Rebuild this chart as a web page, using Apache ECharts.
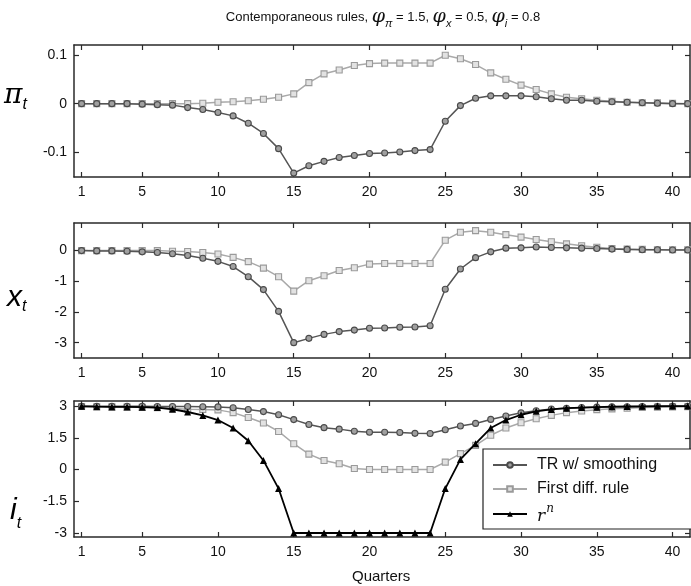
<!DOCTYPE html>
<html>
<head>
<meta charset="utf-8">
<script src="https://cdn.jsdelivr.net/npm/echarts@6/dist/echarts.min.js"></script>
<style>
  html, body { margin: 0; padding: 0; background: #fff; }
  #chart { width: 691px; height: 586px; }
</style>
</head>
<body>
<div id="chart"></div>
<script>
// Quarters after the shock
const quarters = [1, 2, 3, 4, 5, 6, 7, 8, 9, 10, 11, 12, 13, 14, 15, 16, 17, 18, 19, 20,
  21, 22, 23, 24, 25, 26, 27, 28, 29, 30, 31, 32, 33, 34, 35, 36, 37, 38, 39, 40, 41];
const quarterTicks = [1, 5, 10, 15, 20, 25, 30, 35, 40];

// Inflation
const piTR = [0, 0, 0, 0, -0.001, -0.002, -0.003, -0.008, -0.012, -0.018, -0.025, -0.04, -0.061, -0.092,
  -0.142, -0.127, -0.118, -0.11, -0.106, -0.102, -0.101, -0.099, -0.096, -0.094, -0.036, -0.004,
  0.011, 0.016, 0.016, 0.016, 0.014, 0.01, 0.007, 0.007, 0.005, 0.004, 0.003, 0.002, 0.001, 0, 0];
const piFD = [0, 0, 0, 0, 0, 0, 0, 0, 0.001, 0.003, 0.004, 0.006, 0.009, 0.013, 0.02, 0.043, 0.061,
  0.069, 0.078, 0.082, 0.083, 0.083, 0.083, 0.083, 0.099, 0.092, 0.08, 0.063, 0.05, 0.038, 0.029,
  0.02, 0.013, 0.01, 0.007, 0.005, 0.003, 0.002, 0.002, 0.001, 0];
const piTicks = [-0.1, 0, 0.1];

// Output gap
const xTR = [0, -0.01, -0.01, -0.02, -0.04, -0.06, -0.1, -0.16, -0.25, -0.35, -0.52, -0.85, -1.27,
  -1.98, -3.0, -2.86, -2.73, -2.64, -2.59, -2.53, -2.52, -2.5, -2.49, -2.45, -1.26, -0.6, -0.23,
  -0.04, 0.08, 0.09, 0.12, 0.1, 0.09, 0.08, 0.07, 0.05, 0.04, 0.03, 0.03, 0.02, 0.02];
const xFD = [0, 0, 0, 0, 0, 0, -0.02, -0.03, -0.06, -0.11, -0.22, -0.36, -0.57, -0.85, -1.32, -0.98,
  -0.82, -0.65, -0.56, -0.44, -0.42, -0.42, -0.42, -0.42, 0.34, 0.6, 0.65, 0.6, 0.52, 0.44, 0.36,
  0.29, 0.22, 0.16, 0.11, 0.07, 0.05, 0.04, 0.03, 0.03, 0.03];
const xTicks = [-3, -2, -1, 0];

// Nominal interest rate and natural rate
const iTR = [2.99, 2.99, 2.99, 2.99, 2.99, 2.98, 2.98, 2.98, 2.97, 2.96, 2.92, 2.84, 2.74, 2.59, 2.36,
  2.13, 1.98, 1.91, 1.81, 1.76, 1.76, 1.75, 1.71, 1.7, 1.88, 2.06, 2.18, 2.37, 2.53, 2.68, 2.78,
  2.86, 2.9, 2.93, 2.95, 2.96, 2.97, 2.98, 2.98, 2.99, 2.99];
const iFD = [2.98, 2.97, 2.96, 2.95, 2.94, 2.92, 2.89, 2.85, 2.84, 2.82, 2.69, 2.46, 2.2, 1.8, 1.22,
  0.73, 0.43, 0.27, 0.05, 0, 0, 0, 0, 0, 0.35, 0.75, 1.14, 1.62, 1.96, 2.21, 2.4, 2.56, 2.69, 2.77,
  2.83, 2.87, 2.9, 2.93, 2.95, 2.96, 2.97];
const rn = [2.99, 2.97, 2.96, 2.96, 2.95, 2.93, 2.85, 2.72, 2.56, 2.34, 1.96, 1.36, 0.43, -0.9, -3,
  -3, -3, -3, -3, -3, -3, -3, -3, -3, -0.9, 0.48, 1.22, 1.96, 2.34, 2.59, 2.75, 2.84, 2.9, 2.93,
  2.95, 2.97, 2.98, 2.99, 3.0, 3.0, 3.0];
const iTicks = [-3, -1.5, 0, 1.5, 3];

const seriesNames = ['TR w/ smoothing', 'First diff. rule', 'rn'];

const panels = [
  { top: 45, height: 132, min: -0.15, max: 0.12, ticks: piTicks, tr: piTR, fd: piFD },
  { top: 223, height: 135, min: -3.5, max: 0.9, ticks: xTicks, tr: xTR, fd: xFD },
  { top: 401, height: 136, min: -3.19, max: 3.24, ticks: iTicks, tr: iTR, fd: iFD, rn: rn }
];

const axisLine = { show: true, onZero: false, lineStyle: { color: '#2a2a2a', width: 1.5 } };
const font = 'Liberation Sans, Arial, Helvetica, sans-serif';

const grid = [], xAxis = [], yAxis = [], series = [];
panels.forEach((p, i) => {
  grid.push({ left: 74, width: 616, top: p.top, height: p.height });
  ['bottom', 'top'].forEach(pos => {
    xAxis.push({
      gridIndex: i, type: 'value', position: pos, min: 0.5, max: 41.15,
      axisLine: axisLine,
      axisTick: { show: true, inside: true, length: 5, customValues: quarterTicks,
        lineStyle: { color: '#2a2a2a', width: 1.2 } },
      axisLabel: { show: pos === 'bottom', customValues: quarterTicks, color: '#111',
        fontSize: 14, margin: 8, fontFamily: font },
      splitLine: { show: false }
    });
  });
  ['left', 'right'].forEach(pos => {
    yAxis.push({
      gridIndex: i, type: 'value', position: pos, min: p.min, max: p.max,
      axisLine: axisLine,
      axisTick: { show: true, inside: true, length: 5, customValues: p.ticks,
        lineStyle: { color: '#2a2a2a', width: 1.2 } },
      axisLabel: { show: pos === 'left', customValues: p.ticks, color: '#111',
        fontSize: 14, margin: 7, fontFamily: font },
      splitLine: { show: false }
    });
  });
  const pair = (vals) => quarters.map((q, k) => [q, vals[k]]);
  series.push({
    name: seriesNames[1], type: 'line', xAxisIndex: 2 * i, yAxisIndex: 2 * i,
    data: pair(p.fd), symbol: 'rect', symbolSize: 6, showAllSymbol: true,
    lineStyle: { color: '#a9a9a9', width: 1.5 },
    itemStyle: { color: '#e2e2e2', borderColor: '#9a9a9a', borderWidth: 1.1 },
    z: 2, animation: false
  });
  series.push({
    name: seriesNames[0], type: 'line', xAxisIndex: 2 * i, yAxisIndex: 2 * i,
    data: pair(p.tr), symbol: 'circle', symbolSize: 6, showAllSymbol: true,
    lineStyle: { color: '#555', width: 1.5 },
    itemStyle: { color: '#a0a0a0', borderColor: '#4a4a4a', borderWidth: 1.1 },
    z: 3, animation: false
  });
  if (p.rn) {
    series.push({
      name: seriesNames[2], type: 'line', xAxisIndex: 2 * i, yAxisIndex: 2 * i,
      data: pair(p.rn), symbol: 'triangle', symbolSize: 7, showAllSymbol: true,
      lineStyle: { color: '#000', width: 1.8 },
      itemStyle: { color: '#000' },
      z: 4, animation: false
    });
  }
});

const chart = echarts.init(document.getElementById('chart'), null, { renderer: 'canvas' });
chart.setOption({
  backgroundColor: '#fff',
  animation: false,
  textStyle: { fontFamily: font },
  grid, xAxis, yAxis, series,
  legend: {
    data: seriesNames,
    orient: 'vertical', left: 483, top: 449,
    backgroundColor: '#fff', borderColor: '#222', borderWidth: 1.2,
    padding: [6, 40, 4, 9], itemGap: 4, itemWidth: 34, itemHeight: 7,
    selectedMode: false,
    formatter: name => name === 'rn' ? '{r|r}{n|n}' : name,
    textStyle: {
      fontSize: 16, color: '#111', fontFamily: font, padding: [0, 0, 0, 5], lineHeight: 20,
      rich: {
        r: { fontSize: 17, fontStyle: 'italic', fontFamily: 'DejaVu Serif, serif', lineHeight: 22, verticalAlign: 'bottom' },
        n: { fontSize: 12, fontStyle: 'italic', fontFamily: 'DejaVu Serif, serif', lineHeight: 22, verticalAlign: 'top', padding: [0, 0, 8, 1] }
      }
    }
  },
  graphic: [
    {
      type: 'text', x: 383, y: 17,
      style: {
        align: 'center', verticalAlign: 'middle',
        text: '{t|Contemporaneous rules, }{p|φ}{s|π}{t| = 1.5, }{p|φ}{s|x}{t| = 0.5, }{p|φ}{s|i}{t| = 0.8}',
        rich: {
          t: { fontSize: 13, fontFamily: font, fill: '#111', lineHeight: 24, verticalAlign: 'middle' },
          p: { fontSize: 19, fontStyle: 'italic', fontFamily: 'DejaVu Serif, serif', fill: '#111', lineHeight: 24, verticalAlign: 'middle' },
          s: { fontSize: 11, fontStyle: 'italic', fontFamily: font, fill: '#111', lineHeight: 11, verticalAlign: 'bottom' }
        }
      }
    },
    {
      type: 'text', left: 4, top: 82,
      style: {
        text: '{a|π}{b|t}',
        rich: {
          a: { fontSize: 28, fontStyle: 'italic', fontFamily: 'DejaVu Serif, serif', fill: '#000', lineHeight: 34, verticalAlign: 'middle' },
          b: { fontSize: 16, fontStyle: 'italic', fontFamily: font, fill: '#000', lineHeight: 16, verticalAlign: 'bottom' }
        }
      }
    },
    {
      type: 'text', left: 7, top: 283,
      style: {
        text: '{a|x}{b|t}',
        rich: {
          a: { fontSize: 30, fontStyle: 'italic', fontFamily: font, fill: '#000', lineHeight: 34, verticalAlign: 'middle' },
          b: { fontSize: 16, fontStyle: 'italic', fontFamily: font, fill: '#000', lineHeight: 16, verticalAlign: 'bottom' }
        }
      }
    },
    {
      type: 'text', left: 10, top: 496,
      style: {
        text: '{a|i}{b|t}',
        rich: {
          a: { fontSize: 30, fontStyle: 'italic', fontFamily: font, fill: '#000', lineHeight: 34, verticalAlign: 'middle' },
          b: { fontSize: 16, fontStyle: 'italic', fontFamily: font, fill: '#000', lineHeight: 16, verticalAlign: 'bottom', padding: [0, 0, -4, 0] }
        }
      }
    },
    {
      type: 'text', left: 352, top: 569,
      style: { text: 'Quarters', fontSize: 15, fontFamily: font, fill: '#111' }
    }
  ]
});
</script>
</body>
</html>
